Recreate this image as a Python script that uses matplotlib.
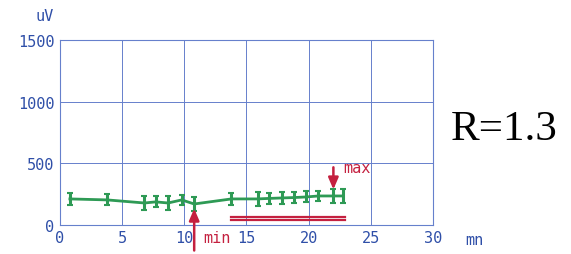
import matplotlib
matplotlib.use("Agg")
import matplotlib.pyplot as plt

# time (mn), amplitude (uV), spread
times = [0.8, 3.8, 6.8, 7.7, 8.7, 9.8, 10.8, 13.8, 15.9, 16.8, 17.9, 18.8, 19.8, 20.8, 22.0, 22.8]
amps = [211, 203, 178, 187, 178, 203, 170, 211, 211, 215, 219, 222, 227, 235, 235, 235]
errs = [50, 45, 60, 45, 55, 40, 60, 50, 55, 45, 50, 45, 45, 40, 55, 60]

band_start, band_end = 13.8, 22.9
band_levels = [62, 40]
min_t, min_val = 10.8, 170
max_t, max_val = 22.0, 235

xticks = [0, 5, 10, 15, 20, 25, 30]
yticks = [0, 500, 1000, 1500]

blue = "#2f4fa8"
grid_blue = "#6680cc"
green = "#2e9a55"
red = "#c4203f"
mono = "DejaVu Sans Mono"

fig = plt.figure(figsize=(5.71, 2.55), dpi=100)
ax = fig.add_axes([0.105, 0.114, 0.653, 0.725])

ax.set_xlim(0, 30)
ax.set_ylim(0, 1500)
ax.set_xticks(xticks)
ax.set_yticks(yticks)
ax.set_xticklabels([str(v) for v in xticks], fontsize=11, color=blue, family=mono)
ax.set_yticklabels([str(v) for v in yticks], fontsize=11, color=blue, family=mono)
ax.tick_params(length=0, pad=4)
ax.grid(True, color=grid_blue, linewidth=0.7)
for s in ax.spines.values():
    s.set_color(grid_blue)
    s.set_linewidth(0.8)

ax.plot(times, amps, color=green, linewidth=2, zorder=3)
ax.errorbar(times, amps, yerr=errs, fmt="none", ecolor=green, elinewidth=2.2,
            capsize=2, capthick=1.5, zorder=3)

for lvl in band_levels:
    ax.plot([band_start, band_end], [lvl, lvl], color=red, linewidth=1.6, zorder=3)

# min arrow (from below the axis)
ax.annotate("", xy=(min_t, min_val - 15), xytext=(min_t, -230),
            arrowprops=dict(arrowstyle="-|>,head_width=0.3,head_length=0.7",
                            color=red, lw=1.8), annotation_clip=False, zorder=4)
ax.text(min_t + 0.7, -100, "min", color=red, fontsize=11, family=mono,
        va="center", ha="left", clip_on=False)

# max arrow
ax.annotate("", xy=(max_t, max_val + 30), xytext=(max_t, 490),
            arrowprops=dict(arrowstyle="-|>,head_width=0.3,head_length=0.7",
                            color=red, lw=1.8), zorder=4)
ax.text(max_t + 0.8, 470, "max", color=red, fontsize=11, family=mono,
        va="center", ha="left")

fig.text(0.062, 0.935, "uV", color=blue, fontsize=11, family=mono, ha="left", va="center")
fig.text(0.815, 0.058, "mn", color=blue, fontsize=11, family=mono, ha="left", va="center")
fig.text(0.789, 0.49, "R=1.3", color="black", fontsize=31, family="Liberation Serif",
         ha="left", va="center")

fig.savefig("out.png", dpi=100, facecolor="white")
